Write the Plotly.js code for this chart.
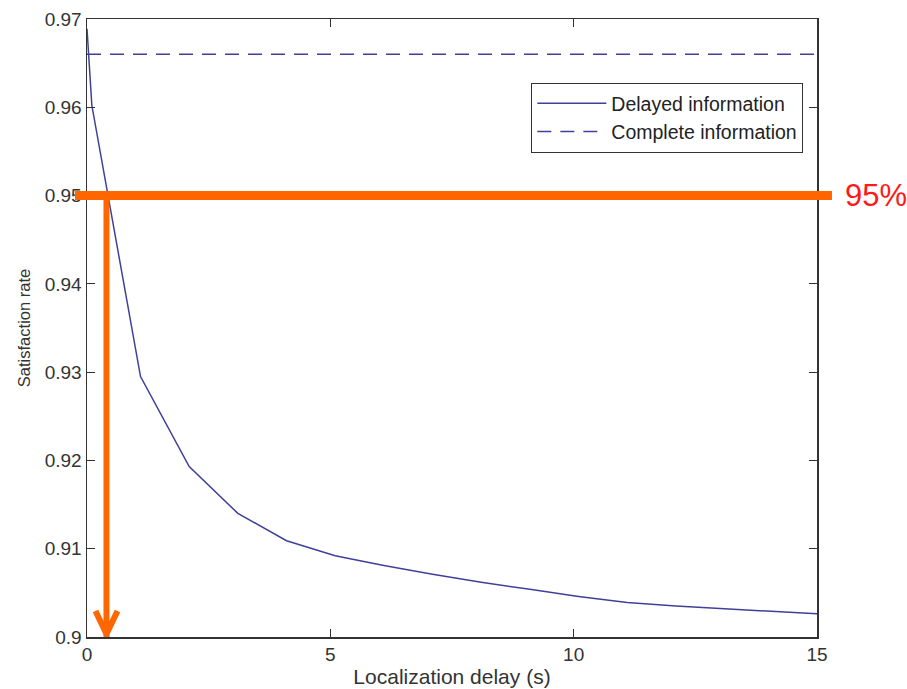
<!DOCTYPE html>
<html>
<head>
<meta charset="utf-8">
<script src="https://cdn.plot.ly/plotly-3.0.1.min.js"></script>
<style>
  html, body { margin: 0; padding: 0; background: #ffffff; }
  #chart { width: 907px; height: 689px; }
</style>
</head>
<body>
<div id="chart"></div>
<script>
// Localization delay (s) at which each satisfaction rate is evaluated
var delayX = [0, 0.1, 1.1, 2.1, 3.1, 4.1, 5.1, 6.1, 7.1, 8.1, 9.1, 10.1, 11.1, 12.1, 13.1, 14.1, 15.1];
// Satisfaction rate with delayed localization information
var delayedRate = [0.9689, 0.9602, 0.9295, 0.9193, 0.9140, 0.9109, 0.9092, 0.9081, 0.9071, 0.9062,
                   0.9054, 0.9046, 0.9039, 0.9035, 0.9032, 0.9029, 0.9026];
// Satisfaction rate with complete information (constant reference)
var completeX = [0, 15];
var completeRate = [0.966, 0.966];

// Axis ticks
var xTickVals = [0, 5, 10, 15];
var yTickVals = [0.9, 0.91, 0.92, 0.93, 0.94, 0.95, 0.96, 0.97];
var yTickText = ['0.9', '0.91', '0.92', '0.93', '0.94', '0.95', '0.96', '0.97'];

// 95% threshold marker and the delay it is reached at
var thresholdRate = 0.95;
var thresholdLabel = '95%';
var thresholdDelay = 0.4;

var FONT = 'Liberation Sans, Arial, sans-serif';
var AXIS = '#333333';
var ORANGE = '#ff6600';

var traces = [
  {
    x: delayX, y: delayedRate,
    type: 'scatter', mode: 'lines',
    name: 'Delayed information',
    line: { color: '#40409a', width: 1.5 },
    hoverinfo: 'x+y'
  },
  {
    x: completeX, y: completeRate,
    type: 'scatter', mode: 'lines',
    name: 'Complete information',
    line: { color: '#40409a', width: 1.5, dash: '14px,9px' },
    hoverinfo: 'x+y'
  }
];

var axisCommon = {
  showline: true, linecolor: AXIS, linewidth: 1.5, mirror: 'ticks',
  ticks: 'inside', ticklen: 8, tickwidth: 1.2, tickcolor: AXIS,
  showgrid: false, zeroline: false,
  tickfont: { family: FONT, size: 19, color: AXIS }
};

var layout = {
  width: 907, height: 689,
  margin: { l: 87, r: 90, t: 19, b: 52, pad: 0 },
  paper_bgcolor: '#ffffff', plot_bgcolor: '#ffffff',
  showlegend: true,
  xaxis: Object.assign({}, axisCommon, {
    range: [0, 15], tickmode: 'array', tickvals: xTickVals,
    title: { text: 'Localization delay (s)', font: { family: FONT, size: 21, color: AXIS }, standoff: 5 },
    automargin: false
  }),
  yaxis: Object.assign({}, axisCommon, {
    range: [0.9, 0.97], tickmode: 'array', tickvals: yTickVals, ticktext: yTickText,
    title: { text: 'Satisfaction rate', font: { family: FONT, size: 16.5, color: AXIS }, standoff: 10 },
    automargin: false
  }),
  legend: {
    x: 0.981, xanchor: 'right', y: 0.8968, yanchor: 'top',
    bgcolor: '#ffffff', bordercolor: AXIS, borderwidth: 1.2,
    font: { family: FONT, size: 19.5, color: '#222222' },
    itemwidth: 69, tracegroupgap: 0
  },
  shapes: [
    // horizontal 95% threshold bar, running past both sides of the axes box
    {
      type: 'line', xref: 'paper', yref: 'y',
      x0: -0.0164, x1: 1.0205, y0: thresholdRate, y1: thresholdRate,
      line: { color: ORANGE, width: 9 }, layer: 'above'
    },
    // vertical drop from the threshold to the delay axis
    {
      type: 'line', xref: 'x', yref: 'y',
      x0: thresholdDelay, x1: thresholdDelay, y0: thresholdRate, y1: 0.9,
      line: { color: ORANGE, width: 6 }, layer: 'above'
    },
    // open arrowhead at the bottom of the drop
    {
      type: 'path', xref: 'x', yref: 'y',
      xsizemode: 'pixel', ysizemode: 'pixel',
      xanchor: thresholdDelay, yanchor: 0.9,
      path: 'M-11,26 L0,3 L11,26',
      line: { color: ORANGE, width: 6 }, layer: 'above'
    }
  ],
  annotations: [
    {
      xref: 'paper', yref: 'y', x: 1.0356, y: thresholdRate,
      xanchor: 'left', yanchor: 'middle',
      text: thresholdLabel, showarrow: false,
      font: { family: FONT, size: 31, color: '#ff1a1a' }
    }
  ]
};

Plotly.newPlot('chart', traces, layout, { staticPlot: true, displayModeBar: false });
</script>
</body>
</html>
